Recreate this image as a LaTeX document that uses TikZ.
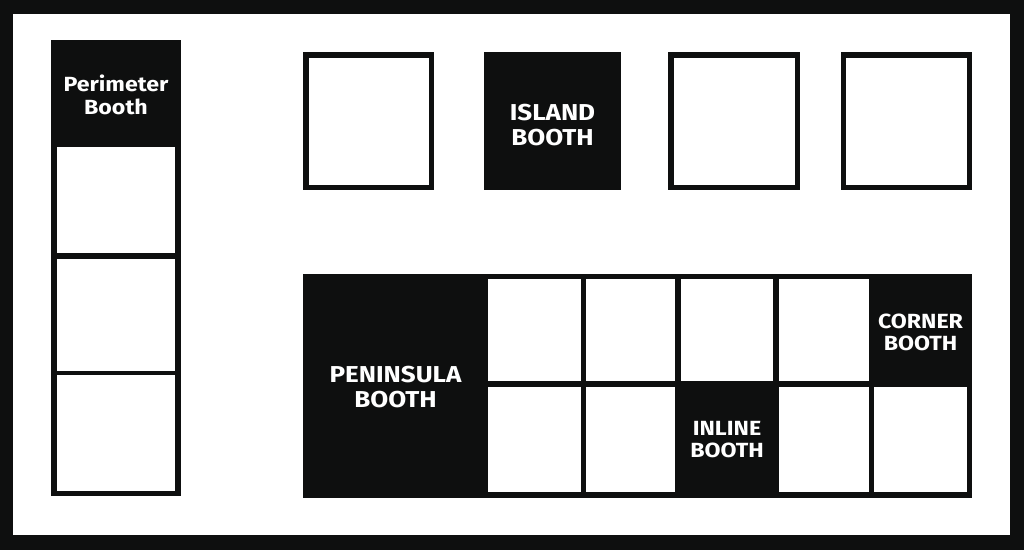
\documentclass[tikz,border=0pt]{standalone}
\usepackage{fontspec}
\setmainfont{Fira Sans}
\newfontfamily\boothfont[FakeStretch=1.13]{Fira Sans}
\definecolor{ink}{HTML}{0E0F0F}
\begin{document}
\begin{tikzpicture}[x=1pt,y=-1pt,
  outline/.style={draw=ink,line width=5.5pt,fill=white,inner sep=0pt},
  solid box/.style={fill=ink,inner sep=0pt},
  wcell/.style={fill=white,inner sep=0pt,anchor=north west},
  lbl/.style={text=white,align=center,font=\boothfont\bfseries\fontsize{23}{24.5}\selectfont},
  slbl/.style={text=white,align=center,font=\boothfont\bfseries\fontsize{20.5}{22}\selectfont}]
\useasboundingbox (0,0) rectangle (1024,550);
\fill[ink] (0,0) rectangle (1024,550);
\fill[white] (13,14) rectangle (1010,535);
% perimeter column
\node[solid box,minimum width=130pt,minimum height=456pt] (perim) at (116,268) {};
\node[wcell,minimum width=118pt,minimum height=106pt] (pc1) at (57,147) {};
\node[wcell,minimum width=118pt,minimum height=112pt] (pc2) at (57,258.5) {};
\node[wcell,minimum width=118pt,minimum height=116pt] (pc3) at (57,375) {};
\node[slbl,font=\boothfont\bfseries\fontsize{20.5}{23}\selectfont] (perimlbl) at (116,95) {Perimeter\\Booth};
% top row
\node[outline,minimum width=125.5pt,minimum height=132.5pt] (sq1) at (368.5,121) {};
\node[solid box,minimum width=137pt,minimum height=138pt] (island) at (552.5,121) {};
\node[lbl] (islandlbl) at (552.5,125) {ISLAND\\BOOTH};
\node[outline,minimum width=126.5pt,minimum height=132.5pt] (sq3) at (734.2,121) {};
\node[outline,minimum width=126pt,minimum height=132.5pt] (sq4) at (906.5,121) {};
% bottom block
\node[solid box,minimum width=669pt,minimum height=224pt] (block) at (637.5,386) {};
\node[wcell,minimum width=93pt,minimum height=102pt] (t1) at (488,279) {};
\node[wcell,minimum width=89pt,minimum height=102pt] (t2) at (586,279) {};
\node[wcell,minimum width=92pt,minimum height=102pt] (t3) at (681,279) {};
\node[wcell,minimum width=90pt,minimum height=102pt] (t4) at (779,279) {};
\node[wcell,minimum width=93pt,minimum height=105.5pt] (b1) at (488,386.5) {};
\node[wcell,minimum width=89pt,minimum height=105.5pt] (b2) at (586,386.5) {};
\node[wcell,minimum width=90pt,minimum height=105.5pt] (b4) at (779,386.5) {};
\node[wcell,minimum width=93pt,minimum height=105.5pt] (b5) at (874,386.5) {};
\node[lbl,font=\boothfont\bfseries\fontsize{23}{25}\selectfont] (penlbl) at (395.5,387) {PENINSULA\\BOOTH};
\node[slbl] (cornerlbl) at (920.5,332) {CORNER\\BOOTH};
\node[slbl] (inlinelbl) at (727,440) {INLINE\\BOOTH};
\end{tikzpicture}
\end{document}
